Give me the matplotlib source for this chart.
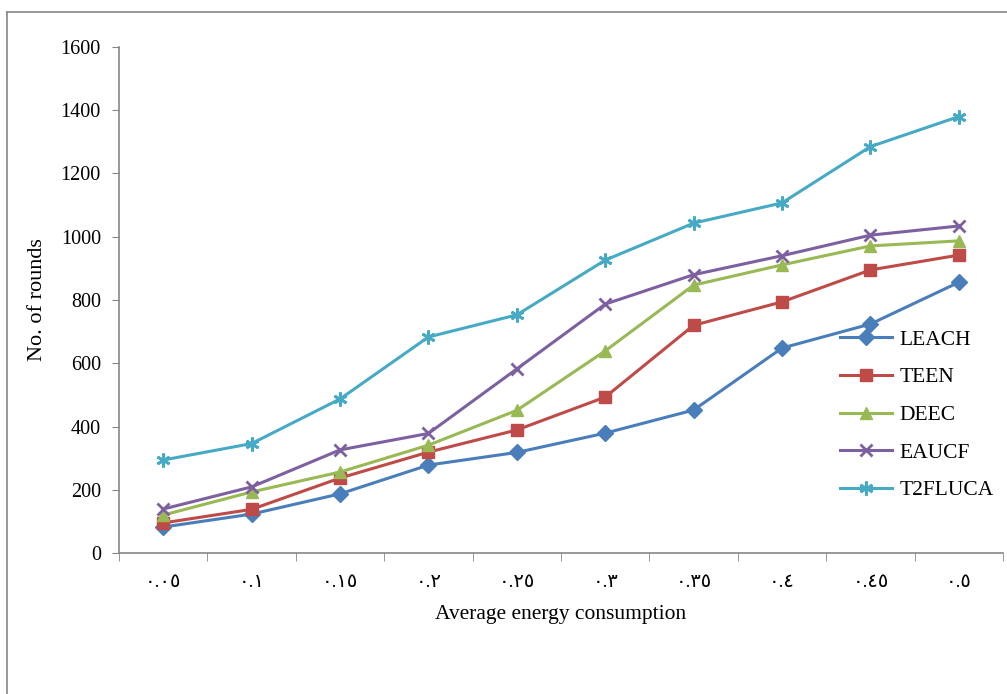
import numpy as np
import matplotlib
matplotlib.use("Agg")
import matplotlib.pyplot as plt
from matplotlib.lines import Line2D

# data
energy = ['٠.٠٥', '٠.١', '٠.١٥', '٠.٢', '٠.٢٥', '٠.٣', '٠.٣٥', '٠.٤', '٠.٤٥', '٠.٥']
leach = [82, 123, 187, 278, 318, 379, 452, 648, 724, 856]
teen = [95, 138, 237, 319, 389, 493, 720, 794, 895, 942]
deec = [120, 193, 256, 341, 451, 639, 847, 911, 971, 987]
eaucf = [139, 209, 326, 378, 582, 787, 880, 940, 1005, 1034]
t2fluca = [294, 346, 487, 683, 753, 926, 1043, 1107, 1285, 1380]

series = [
    ("LEACH", leach, "#4A7EBB", "D", 8),
    ("TEEN", teen, "#BE4B48", "s", 9),
    ("DEEC", deec, "#98B954", "^", 9),
    ("EAUCF", eaucf, "#7D60A0", "x", 9),
    ("T2FLUCA", t2fluca, "#46AAC5", (6, 2, 0), 10),
]

serif = ['Liberation Serif', 'DejaVu Sans']
plt.rcParams['font.family'] = serif

fig = plt.figure(figsize=(10.07, 6.94), dpi=100)
ax = fig.add_axes([119 / 1007, 1 - 553 / 694, 884 / 1007, 506 / 694])

x = np.arange(len(energy))
for name, vals, col, mk, ms in series:
    ax.plot(x, vals, color=col, marker=mk, markersize=ms, linewidth=2.2,
            markeredgewidth=2 if mk in ("x", (6, 2, 0)) else 1,
            label=name)

ax.set_xlim(-0.5, len(energy) - 0.5)
ax.set_ylim(0, 1600)
ax.set_yticks(np.arange(0, 1601, 200))
ax.set_xticks(x)
ax.set_xticklabels(energy, fontsize=14, family=serif)
ax.set_xticks(np.arange(-0.5, len(energy)), minor=True)
ax.tick_params(axis='x', which='major', length=0, pad=15)
ax.tick_params(axis='x', which='minor', length=6, color='#868686', direction='out')
ax.tick_params(axis='y', length=5, color='#868686', direction='out', labelsize=14.5, pad=8)

for s in ['top', 'right']:
    ax.spines[s].set_visible(False)
for s in ['left', 'bottom']:
    ax.spines[s].set_color('#868686')
    ax.spines[s].set_linewidth(1.2)

ax.set_xlabel("Average energy consumption", fontsize=15.5, labelpad=10)
ax.set_ylabel("No. of rounds", fontsize=16, labelpad=10)

fig.legend(loc='center left', bbox_to_anchor=(840 / 1007, 1 - 415 / 694),
           frameon=False, fontsize=15.5, handlelength=2.4, labelspacing=0.82,
           borderpad=0, borderaxespad=0, handletextpad=0.35)

# outer chart-area border (left and top edges visible)
fig.add_artist(Line2D([7 / 1007, 7 / 1007], [0, 1 - 12 / 694], transform=fig.transFigure,
                      color='#868686', linewidth=1.2))
fig.add_artist(Line2D([7 / 1007, 1], [1 - 12 / 694, 1 - 12 / 694], transform=fig.transFigure,
                      color='#868686', linewidth=1.2))

fig.savefig("out.png", dpi=100)
